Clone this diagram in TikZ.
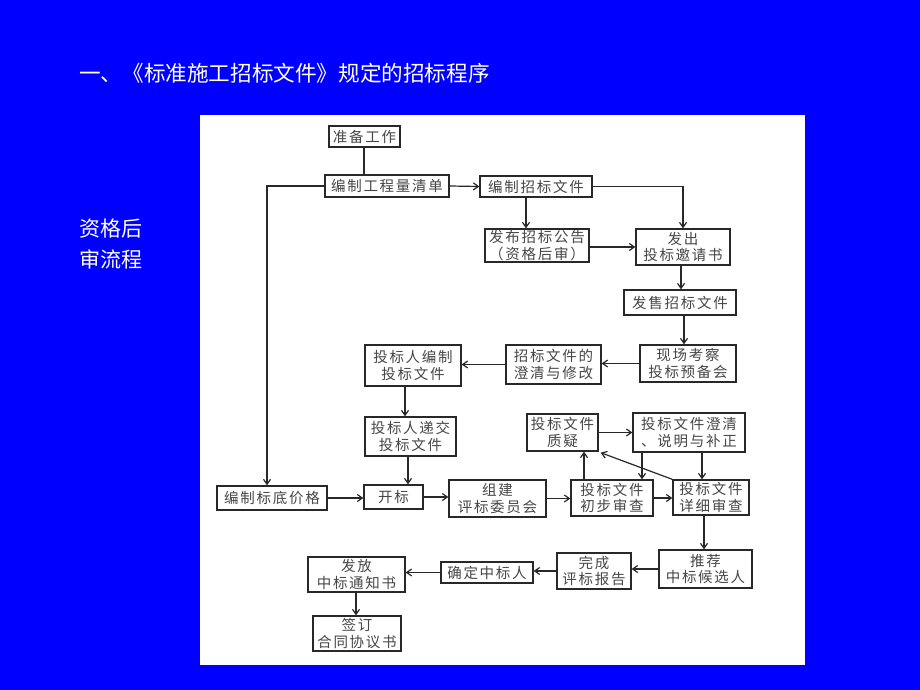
\documentclass[tikz,border=0pt]{standalone}
\usepackage{fontspec}
\setmainfont{Liberation Serif}
\newfontfamily\cjk{Noto Sans CJK SC}
\newfontfamily\cjkbox[LetterSpace=12]{Noto Sans CJK SC}
\usetikzlibrary{arrows.meta,calc}
\definecolor{bgblue}{RGB}{0,0,255}
\definecolor{ink}{RGB}{40,40,40}
\definecolor{txt}{RGB}{70,70,70}
\tikzset{
  box/.style={draw=ink, line width=1.3pt, fill=white, inner sep=0pt, align=center,
    font=\cjkbox\fontsize{14.5}{16.5}\selectfont, text=txt},
  conn/.style={draw=ink, line width=1.2pt},
  arr/.style={conn, -{Straight Barb[length=5pt,width=7pt]}},
}
\begin{document}
\begin{tikzpicture}[x=1pt,y=-1pt]
\fill[bgblue] (0,0) rectangle (920,690);
\useasboundingbox (0,0) rectangle (920,690);
\fill[white] (200,115) rectangle (805,665);
\node[anchor=west, text=white, font=\cjk\fontsize{21.6}{24}\selectfont, inner sep=0pt] (title) at (79,73) {一、《标准施工招标文件》规定的招标程序};
\node[anchor=north west, text=white, align=left, font=\cjk\fontsize{21}{31}\selectfont, inner sep=0pt] (side) at (79,219) {资格后\\审流程};

\node[box, minimum width=71pt, minimum height=21pt] (prep) at (364.5,136.5) {准备工作};
\node[box, minimum width=124pt, minimum height=22pt] (qty) at (387,186) {编制工程量清单};
\node[box, minimum width=112pt, minimum height=21pt] (zbwj) at (536,186.5) {编制招标文件};
\node[box, minimum width=104pt, minimum height=33pt] (fbgg) at (537,245.5) {发布招标公告\\（资格后审）};
\node[box, minimum width=94pt, minimum height=36pt] (fcyq) at (683,247) {发出\\投标邀请书};
\node[box, minimum width=112pt, minimum height=25pt] (fswj) at (680,302.5) {发售招标文件};
\node[box, minimum width=96pt, minimum height=37pt] (xckc) at (688,363.5) {现场考察\\投标预备会};
\node[box, minimum width=95pt, minimum height=39pt] (cqxg) at (553.5,364.5) {招标文件的\\澄清与修改};
\node[box, minimum width=96pt, minimum height=41pt] (bzwj) at (413,365.5) {投标人编制\\投标文件};
\node[box, minimum width=91pt, minimum height=39pt] (djwj) at (410.5,436.5) {投标人递交\\投标文件};
\node[box, minimum width=110pt, minimum height=24pt] (bdjg) at (272,498) {编制标底价格};
\node[box, minimum width=59pt, minimum height=24pt] (kb) at (393.5,497) {开标};
\node[box, minimum width=97pt, minimum height=37pt] (zjpw) at (497.5,498.5) {组建\\评标委员会};
\node[box, minimum width=82pt, minimum height=36pt] (cbsc) at (612,498) {投标文件\\初步审查};
\node[box, minimum width=76pt, minimum height=35pt] (xxsc) at (711,497.5) {投标文件\\详细审查};
\node[box, minimum width=71pt, minimum height=37pt] (zy) at (562.5,432.5) {投标文件\\质疑};
\node[box, minimum width=112pt, minimum height=39pt] (cqsm) at (689,432.5) {投标文件澄清\\、说明与补正};
\node[box, minimum width=93pt, minimum height=38pt] (tj) at (705.5,569) {推荐\\中标候选人};
\node[box, minimum width=74pt, minimum height=36pt] (wcbg) at (594,571) {完成\\评标报告};
\node[box, minimum width=92pt, minimum height=21pt] (qdzb) at (487,572.5) {确定中标人};
\node[box, minimum width=97pt, minimum height=35pt] (ffzs) at (356.5,574.5) {发放\\中标通知书};
\node[box, minimum width=88pt, minimum height=35pt] (qdht) at (357,633.5) {签订\\合同协议书};

\coordinate (xL) at (267,0);
\coordinate (x364) at (364,0);
\coordinate (x526) at (526,0);
\coordinate (x683) at (683,0);
\coordinate (x681) at (681,0);
\coordinate (x684) at (684,0);
\coordinate (x405) at (405,0);
\coordinate (x408) at (408,0);
\coordinate (x584) at (584,0);
\coordinate (x642) at (642,0);
\coordinate (x702) at (702,0);
\coordinate (x704) at (704,0);
\coordinate (x356) at (356,0);
\coordinate (yA) at (0,247);

\draw[conn] (x364 |- prep.south) -- (x364 |- qty.north);
\draw[arr] (qty.east) -- (zbwj.west);
\draw[arr] (qty.west) -| (bdjg.north -| xL);
\draw[arr] (x526 |- zbwj.south) -- (x526 |- fbgg.north);
\draw[arr] (zbwj.east) -| (x683 |- fcyq.north);
\draw[arr] (fbgg.east |- yA) -- (fcyq.west |- yA);
\draw[arr] (x681 |- fcyq.south) -- (x681 |- fswj.north);
\draw[arr] (x684 |- fswj.south) -- (x684 |- xckc.north);
\draw[arr] (xckc.west) -- (cqxg.east |- xckc.west);
\draw[arr] (cqxg.west) -- (bzwj.east |- cqxg.west);
\draw[arr] (x405 |- bzwj.south) -- (x405 |- djwj.north);
\draw[arr] (x408 |- djwj.south) -- (x408 |- kb.north);
\draw[arr] (bdjg.east) -- (kb.west |- bdjg.east);
\draw[arr] (kb.east) -- (zjpw.west |- kb.east);
\draw[arr] (zjpw.east) -- (cbsc.west |- zjpw.east);
\draw[arr] (cbsc.east) -- (xxsc.west |- cbsc.east);
\draw[arr] (x584 |- cbsc.north) -- (x584 |- zy.south);
\draw[arr] (zy.east) -- (cqsm.west |- zy.east);
\draw[arr] (x642 |- cqsm.south) -- (x642 |- cbsc.north);
\draw[arr] (x702 |- cqsm.south) -- (x702 |- xxsc.north);
\draw[arr] (xxsc.north west) -- ([xshift=2pt,yshift=-1pt]zy.south east);
\draw[arr] (x704 |- xxsc.south) -- (x704 |- tj.north);
\draw[arr] (tj.west) -- (wcbg.east |- tj.west);
\draw[arr] (wcbg.west) -- (qdzb.east |- wcbg.west);
\draw[arr] (qdzb.west) -- (ffzs.east |- qdzb.west);
\draw[arr] (x356 |- ffzs.south) -- (x356 |- qdht.north);
\end{tikzpicture}
\end{document}
